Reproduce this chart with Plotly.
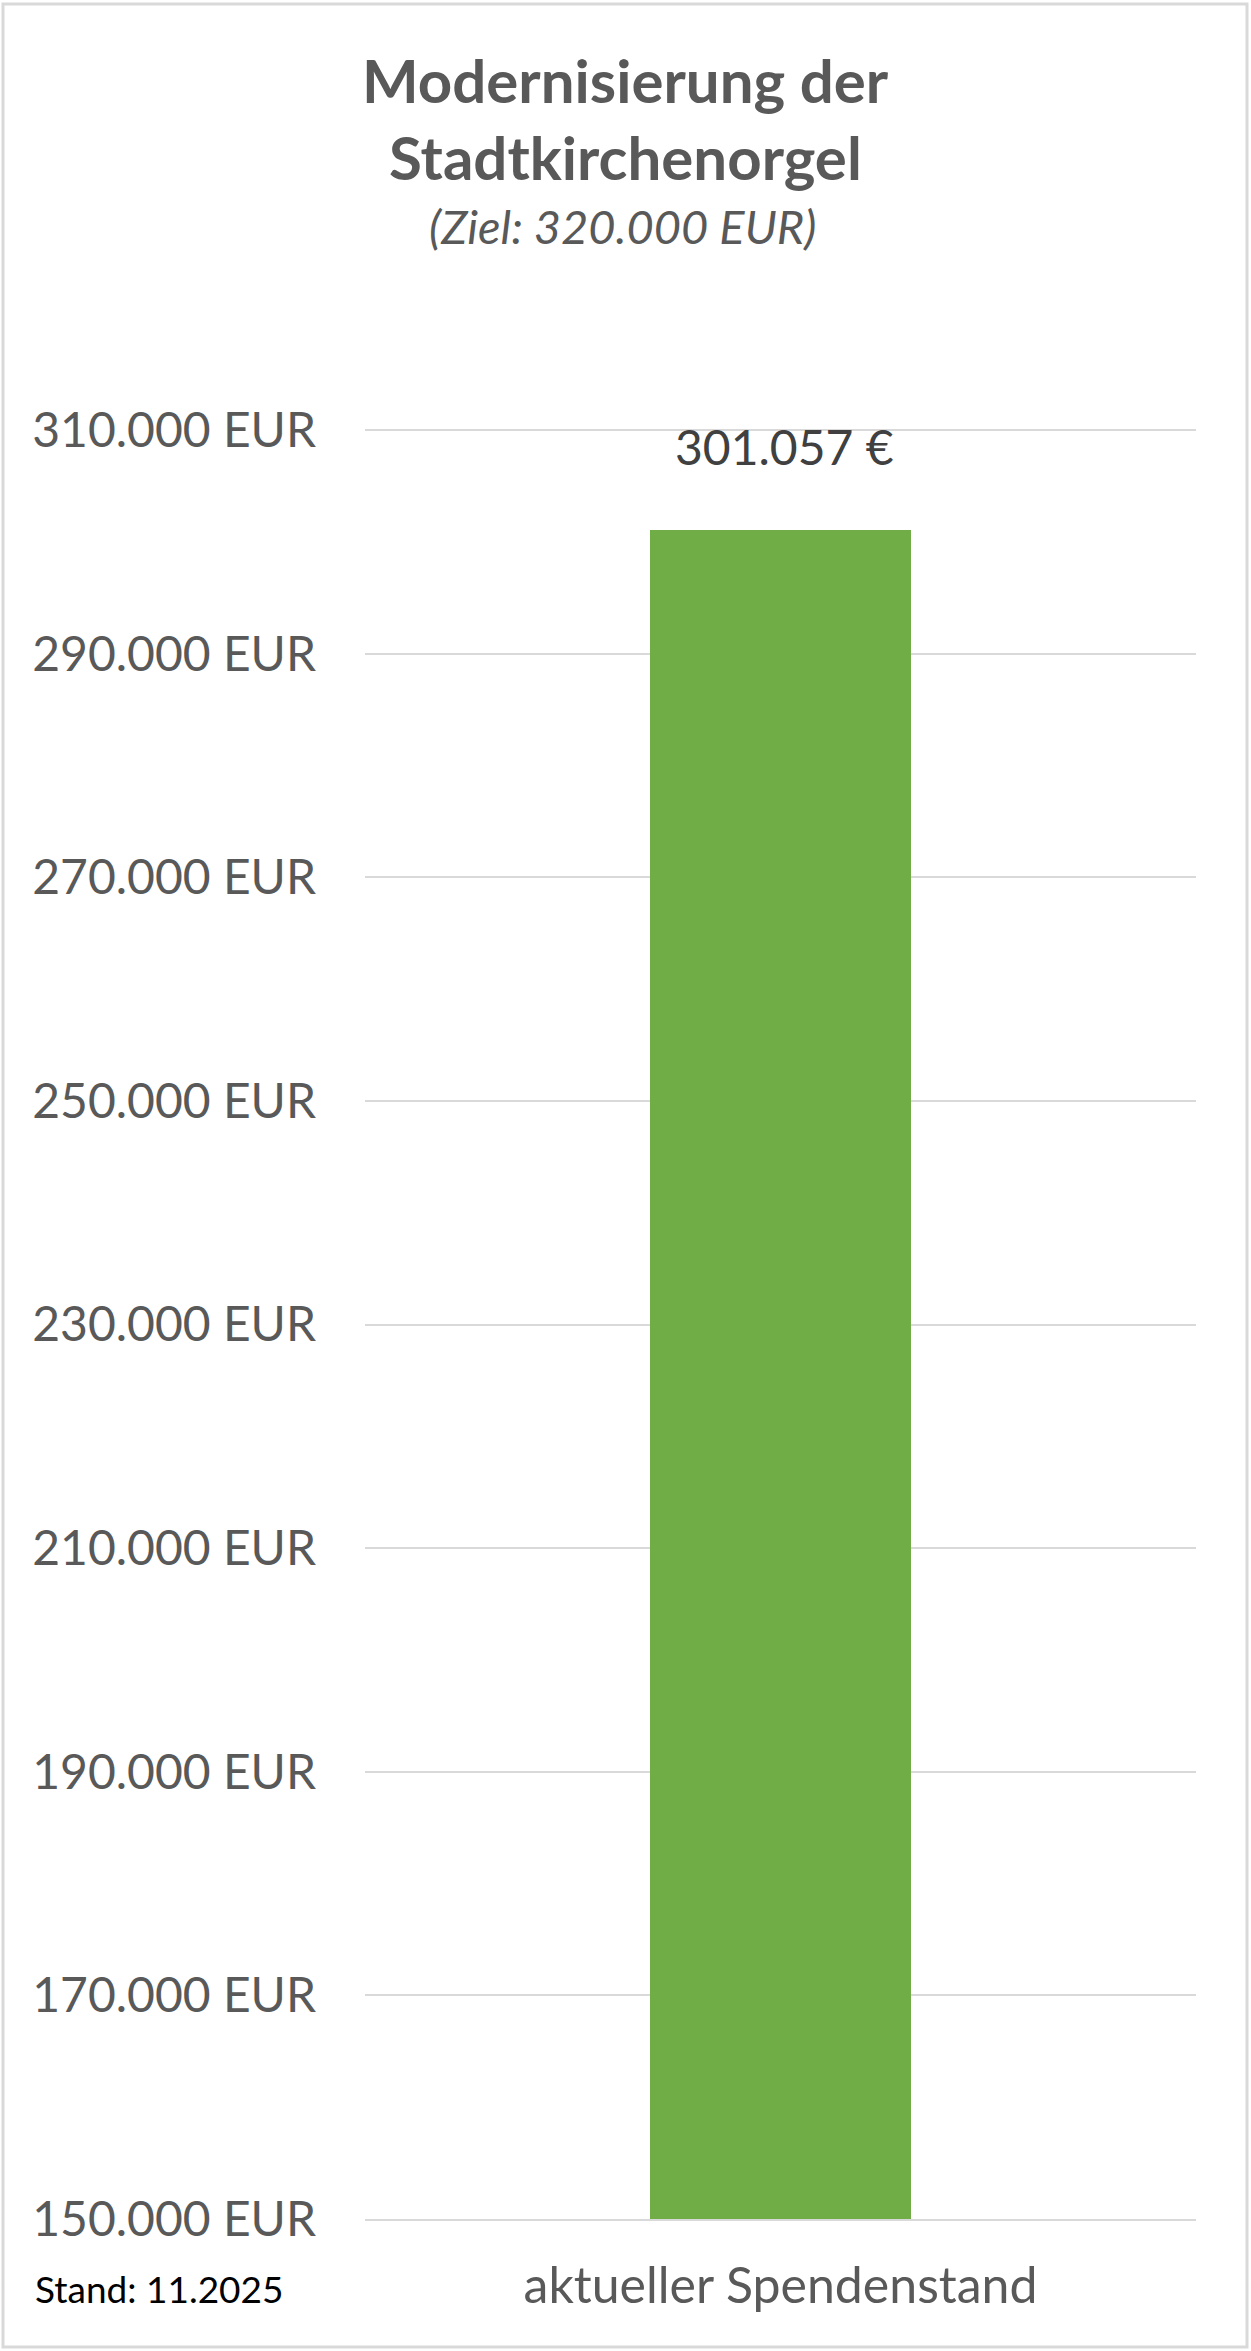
import plotly.graph_objects as go

# data
categories = ["aktueller Spendenstand"]
donations = [301057]
tick_values = [150000, 170000, 190000, 210000, 230000, 250000, 270000, 290000, 310000]
tick_labels = [f"{v:,}".replace(",", ".") + " EUR" for v in tick_values]
value_labels = [f"{v:,}".replace(",", ".") + " €" for v in donations]

title_lines = ["Modernisierung der", "Stadtkirchenorgel"]
subtitle = "(Ziel: 320.000 EUR)"
footer = "Stand: 11.2025"

# page geometry (pixels)
W, H = 1251, 2351
L, R, T, B = 365, 55, 428, 132
pw, ph = W - L - R, H - T - B


def px_x(px):
    # page pixel -> paper coordinate
    return (px - L) / pw


def px_y(py):
    return (H - B - py) / ph


FONT = "Lato"
GREY = "#595959"

fig = go.Figure()
fig.add_trace(go.Bar(
    x=categories,
    y=donations,
    width=0.313,
    marker=dict(color="#70AD47", line=dict(width=0)),
    hoverinfo="skip",
))

annotations = []
# value label above bar
for c, v, t in zip(categories, donations, value_labels):
    annotations.append(dict(x=c, y=v, xref="x", yref="y", text=t, showarrow=False,
                            yanchor="bottom", yshift=53, xshift=4,
                            font=dict(family=FONT, size=48, color="#404040")))
# title
for line, yc in zip(title_lines, [80, 157]):
    annotations.append(dict(x=px_x(625), y=px_y(yc), xref="paper", yref="paper",
                            text=f"<b>{line}</b>", showarrow=False,
                            xanchor="center", yanchor="middle",
                            font=dict(family=FONT, size=60, color=GREY)))
annotations.append(dict(x=px_x(622), y=px_y(226), xref="paper", yref="paper",
                        text=f"<i>{subtitle}</i>", showarrow=False,
                        xanchor="center", yanchor="middle",
                        font=dict(family=FONT, size=47, color=GREY)))
# footer
annotations.append(dict(x=px_x(33), y=px_y(2288), xref="paper", yref="paper",
                        text=footer, showarrow=False,
                        xanchor="left", yanchor="middle",
                        font=dict(family=FONT, size=37, color="#000000")))

fig.update_layout(
    width=W, height=H,
    margin=dict(l=L, r=R, t=T, b=B, pad=0),
    paper_bgcolor="white", plot_bgcolor="white",
    showlegend=False,
    bargap=0,
    annotations=annotations,
    shapes=[dict(type="rect", xref="paper", yref="paper",
                 x0=px_x(3), x1=px_x(1247), y0=px_y(2347), y1=px_y(4),
                 line=dict(color="#D9D9D9", width=3), fillcolor="rgba(0,0,0,0)",
                 layer="below")],
    xaxis=dict(
        showgrid=False, zeroline=False,
        showline=True, linecolor="#D9D9D9", linewidth=2,
        ticks="", ticklabelstandoff=22,
        tickfont=dict(family=FONT, size=50, color=GREY),
    ),
    yaxis=dict(
        range=[150000, 310200],
        tickvals=tick_values, ticktext=tick_labels,
        showgrid=True, gridcolor="#D9D9D9", gridwidth=2,
        zeroline=False, showline=False, ticks="",
        ticklabelstandoff=48,
        tickfont=dict(family=FONT, size=48, color=GREY),
    ),
)

# drop the default page margin so the figure fills the window
fig.write_html("out.html", config={"displayModeBar": False},
               post_script="document.body.style.margin='0';document.body.style.overflow='hidden';")
